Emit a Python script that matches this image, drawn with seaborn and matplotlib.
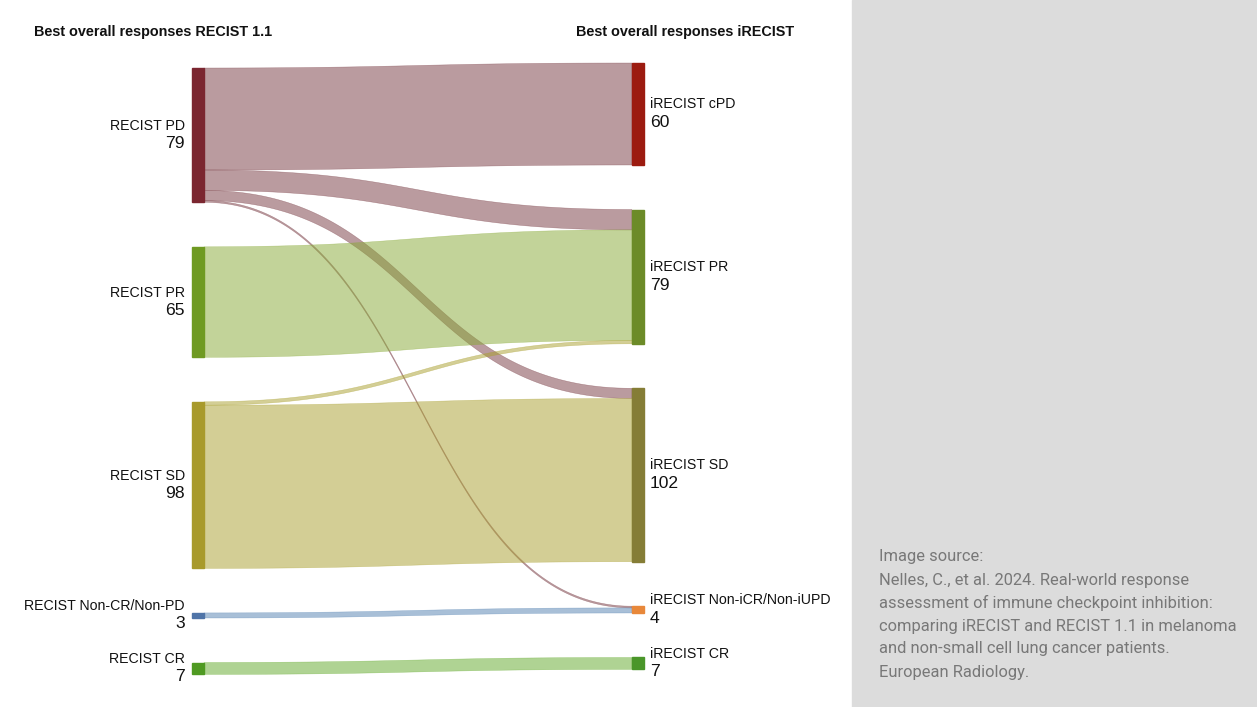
import numpy as np
import matplotlib
matplotlib.use("Agg")
import matplotlib.pyplot as plt
from matplotlib.patches import Polygon, Rectangle
import seaborn as sns

# ---------------------------------------------------------
# Data: best overall responses, RECIST 1.1 -> iRECIST
# ---------------------------------------------------------
left_nodes = ["RECIST PD", "RECIST PR", "RECIST SD", "RECIST Non-CR/Non-PD", "RECIST CR"]
right_nodes = ["iRECIST cPD", "iRECIST PR", "iRECIST SD", "iRECIST Non-iCR/Non-iUPD", "iRECIST CR"]

flow_src = [0, 0, 0, 0, 1, 2, 2, 3, 4]
flow_dst = [0, 1, 2, 3, 1, 1, 2, 3, 4]
flow_val = [60, 12, 6, 1, 65, 2, 96, 3, 7]

left_colors = ["#7b2630", "#6f9a22", "#a89a2c", "#4f74a8", "#4f9a22"]
right_colors = ["#9c1b10", "#6c8b28", "#857d36", "#e8883a", "#4a962a"]
link_colors = ["#773941", "#87a935", "#a99f2d", "#5381b1", "#61a929"]

source_lines = [
    "Image source:",
    "Nelles, C., et al. 2024. Real-world response",
    "assessment of immune checkpoint inhibition:",
    "comparing iRECIST and RECIST 1.1 in melanoma",
    "and non-small cell lung cancer patients.",
    "European Radiology.",
]

# ---------------------------------------------------------
# Layout (pixel space)
# ---------------------------------------------------------
W, H = 1257, 707
scale = 1.7        # px per patient
gap = 44.5         # px between nodes
node_w = 12
left_x, right_x = 192, 632
left_top, right_top = 68, 63

sns.set_theme(style="white")
plt.rcParams["font.family"] = ["Liberation Sans", "DejaVu Sans"]

fig = plt.figure(figsize=(W / 100, H / 100), dpi=100)
ax = fig.add_axes([0, 0, 1, 1])
ax.set_xlim(0, W)
ax.set_ylim(H, 0)
ax.axis("off")

# grey side panel
ax.add_patch(Rectangle((852, 0), W - 852, H, color="#dcdcdc", zorder=0))

flow_src = np.array(flow_src)
flow_dst = np.array(flow_dst)
flow_val = np.array(flow_val)
left_tot = np.array([flow_val[flow_src == i].sum() for i in range(len(left_nodes))])
right_tot = np.array([flow_val[flow_dst == j].sum() for j in range(len(right_nodes))])


def node_tops(totals, top):
    tops = []
    y = top
    for t in totals:
        tops.append(y)
        y += t * scale + gap
    return np.array(tops)


ltops = node_tops(left_tot, left_top)
rtops = node_tops(right_tot, right_top)

# ---------------------------------------------------------
# Links
# ---------------------------------------------------------
l_off = ltops.copy()
r_off = rtops.copy()
y0s, y1s = {}, {}
for k in np.lexsort((flow_dst, flow_src)):
    y0s[k] = l_off[flow_src[k]]
    l_off[flow_src[k]] += flow_val[k] * scale
for k in np.lexsort((flow_src, flow_dst)):
    y1s[k] = r_off[flow_dst[k]]
    r_off[flow_dst[k]] += flow_val[k] * scale

t = np.linspace(0, 1, 160)
x0, x1 = left_x + node_w, right_x
xm = (x0 + x1) / 2
bx = (1 - t) ** 3 * x0 + 3 * (1 - t) ** 2 * t * xm + 3 * (1 - t) * t ** 2 * xm + t ** 3 * x1
by = 3 * (1 - t) * t ** 2 + t ** 3   # 0 -> 1 easing for y

for k in range(len(flow_val)):
    h = flow_val[k] * scale
    top = y0s[k] + (y1s[k] - y0s[k]) * by
    pts = np.vstack([np.column_stack([bx, top]),
                     np.column_stack([bx[::-1], (top + h)[::-1]])])
    c = link_colors[flow_src[k]]
    ax.add_patch(Polygon(pts, closed=True, facecolor=c, alpha=0.5,
                         edgecolor=c, linewidth=0.35, zorder=1))

# ---------------------------------------------------------
# Nodes + labels
# ---------------------------------------------------------
for i, name in enumerate(left_nodes):
    h = left_tot[i] * scale
    ax.add_patch(Rectangle((left_x, ltops[i]), node_w, h, color=left_colors[i], zorder=2))
    cy = ltops[i] + h / 2
    ax.text(left_x - 7, cy - 9, name, ha="right", va="center", fontsize=10.2, color="#111111")
    ax.text(left_x - 7, cy + 8.5, str(left_tot[i]), ha="right", va="center", fontsize=12.6, color="#111111")

for j, name in enumerate(right_nodes):
    h = right_tot[j] * scale
    ax.add_patch(Rectangle((right_x, rtops[j]), node_w, h, color=right_colors[j], zorder=2))
    cy = rtops[j] + h / 2
    ax.text(right_x + node_w + 6, cy - 9.5, name, ha="left", va="center", fontsize=10.2, color="#111111")
    ax.text(right_x + node_w + 6, cy + 8.5, str(right_tot[j]), ha="left", va="center", fontsize=12.6, color="#111111")

ax.text(34, 32, "Best overall responses RECIST 1.1", ha="left", va="center",
        fontsize=10.4, fontweight="bold", color="#111111")
ax.text(576, 32, "Best overall responses iRECIST", ha="left", va="center",
        fontsize=10.4, fontweight="bold", color="#111111")

for n, line in enumerate(source_lines):
    ax.text(879, 557 + n * 23, line, ha="left", va="center", fontsize=11.9,
            color="#787878", family=["Roboto", "DejaVu Sans"])

fig.savefig("out.png", dpi=100)
